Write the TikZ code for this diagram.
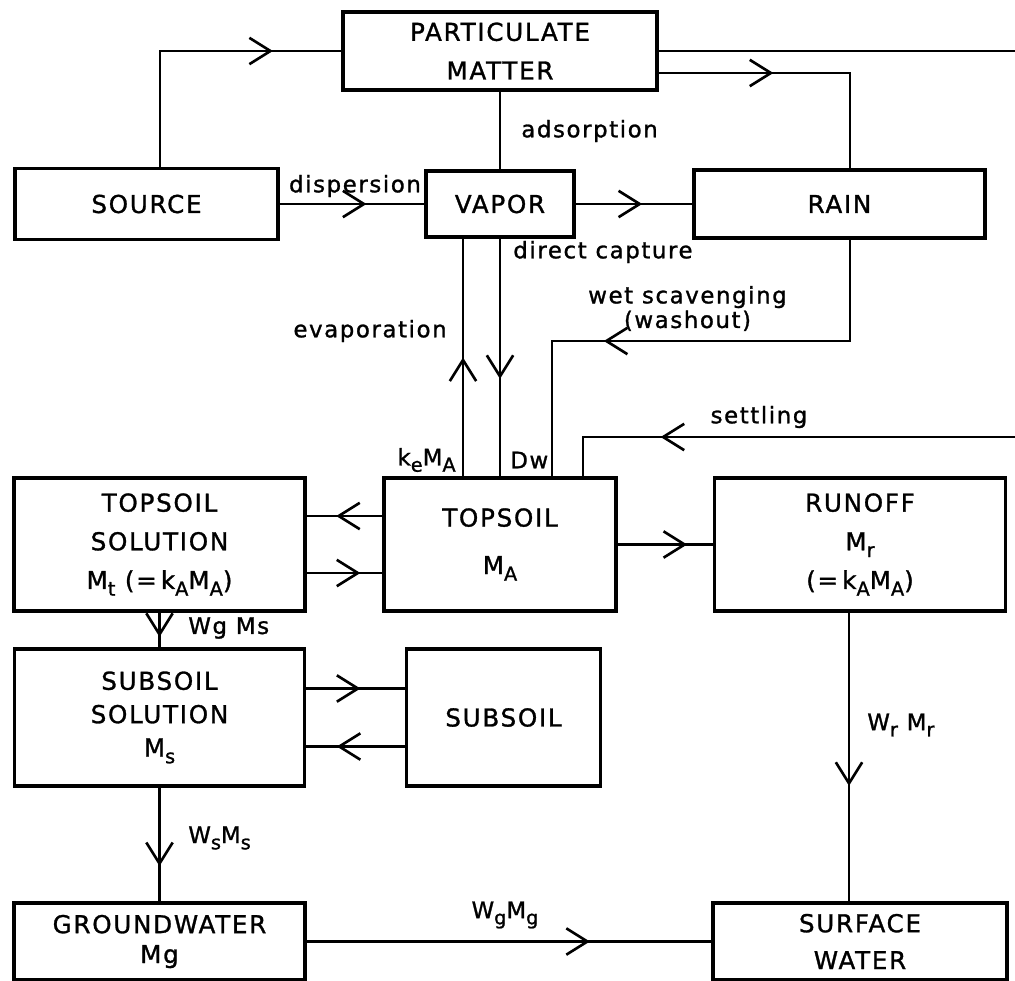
\documentclass[tikz,border=0pt]{standalone}
\usepackage{fontspec}
\setmainfont{DejaVu Sans}[LetterSpace=7, FakeBold=1.2]
\usetikzlibrary{positioning, arrows.meta, decorations.markings}

\newcommand\lo[1]{\raisebox{-0.5ex}{\fontsize{11}{11}\selectfont #1}}

\tikzset{
  box/.style={draw, line width=2pt, align=center, inner sep=0pt,
    font=\fontsize{14}{22}\selectfont},
  lbl/.style={font=\fontsize{13}{14}\selectfont, inner sep=0pt},
  flow/.style={line width=1.5pt},
  midarrow/.style={postaction={decorate}, decoration={markings,
    mark=at position #1 with {\arrow{Straight Barb[length=12pt, width=15pt]}}}}
}

\begin{document}
\begin{tikzpicture}[node distance=3cm, on grid]
  \useasboundingbox (0,0) rectangle (20.3,-19.6);

  % boxes
  \node[box, minimum width=6.28cm, minimum height=1.56cm] (pm) at (10,-1.02) {PARTICULATE\\MATTER};
  \node[box, minimum width=2.96cm, minimum height=1.32cm] (vapor) [below=3.06cm of pm] {VAPOR};
  \node[box, minimum width=5.26cm, minimum height=1.42cm] (source) [left=7.07cm of vapor] {SOURCE};
  \node[box, minimum width=5.82cm, minimum height=1.36cm] (rain) [right=6.79cm of vapor] {RAIN};
  \node[box, minimum width=4.64cm, minimum height=2.66cm, font=\fontsize{14}{27}\selectfont] (topsoil) [below=6.81cm of vapor] {TOPSOIL\\M\lo{A}};
  \node[box, minimum width=5.82cm, minimum height=2.66cm] (tsol) [left=6.81cm of topsoil] {TOPSOIL\\SOLUTION\\M\lo{t} (=\,k\lo{A}M\lo{A})};
  \node[box, minimum width=5.82cm, minimum height=2.66cm] (runoff) [right=7.2cm of topsoil] {RUNOFF\\M\lo{r}\\(=\,k\lo{A}M\lo{A})};
  \node[box, minimum width=5.80cm, minimum height=2.74cm, font=\fontsize{14}{19}\selectfont] (ssol) [below=3.46cm of tsol] {SUBSOIL\\SOLUTION\\M\lo{s}};
  \node[box, minimum width=3.88cm, minimum height=2.74cm] (subsoil) [right=6.88cm of ssol] {SUBSOIL};
  \node[box, minimum width=5.82cm, minimum height=1.54cm, font=\fontsize{14}{17}\selectfont] (gw) [below=4.48cm of ssol] {GROUNDWATER\\Mg};
  \node[box, minimum width=5.88cm, minimum height=1.54cm, font=\fontsize{14}{21}\selectfont] (sw) [right=14.01cm of gw] {SURFACE\\WATER};

  % bends
  \coordinate (edge) at (20.6,-1.04);
  \coordinate (settle) at (11.66,-8.74);
  \coordinate (wash) at (11.04,-6.82);

  % air
  \draw[flow, midarrow=0.77] ([xshift=0.27cm]source.north) |- (pm.west);
  \draw[flow, midarrow=0.40] ([yshift=-0.44cm]pm.east) -| ([xshift=0.21cm]rain.north);
  \draw[flow] (pm.south) -- (vapor.north);
  \draw[flow, midarrow=0.60] (source.east) -- (vapor.west);
  \draw[flow, midarrow=0.57] (vapor.east) -- (rain.west);

  % down to the soil
  \draw[flow, midarrow=0.50] ([xshift=-0.74cm]topsoil.north) -- ([xshift=-0.74cm]vapor.south);
  \draw[flow, midarrow=0.59] (vapor.south) -- (topsoil.north);
  \draw[flow, midarrow=0.65] ([xshift=0.21cm]rain.south) |- (wash) -- (wash |- topsoil.north);
  \draw[flow, midarrow=0.906] (pm.east) -- (pm.east -| edge) |- (settle) -- (settle |- topsoil.north);

  % soil and water
  \draw[flow, midarrow=0.61] ([yshift=0.57cm]topsoil.west) -- ([yshift=0.57cm]tsol.east);
  \draw[flow, midarrow=0.71] ([yshift=-0.57cm]tsol.east) -- ([yshift=-0.57cm]topsoil.west);
  \draw[flow, midarrow=0.73] (topsoil.east) -- (runoff.west);
  \draw[flow, midarrow=0.70] (tsol.south) -- (ssol.north);
  \draw[flow, midarrow=0.55] ([yshift=0.58cm]ssol.east) -- ([yshift=0.58cm]subsoil.west);
  \draw[flow, midarrow=0.69] ([yshift=-0.58cm]subsoil.west) -- ([yshift=-0.58cm]ssol.east);
  \draw[flow, midarrow=0.69] (ssol.south) -- (gw.north);
  \draw[flow, midarrow=0.70] (gw.east) -- (sw.west);
  \draw[flow, midarrow=0.60] ([xshift=-0.22cm]runoff.south) -- ([xshift=-0.22cm]runoff.south |- sw.north);

  % labels
  \node[lbl] (ldisp) at (7.1,-3.72) {dispersion};
  \node[lbl, anchor=west] (lads) at (10.42,-2.62) {adsorption};
  \node[lbl, anchor=west] (ldirect) at (10.26,-5.04) {direct capture};
  \node[lbl, align=center] (lwet) at (13.75,-6.17) {wet scavenging\\(washout)};
  \node[lbl, anchor=east] (levap) at (8.94,-6.62) {evaporation};
  \node[lbl] (lsettle) at (15.18,-8.34) {settling};
  \node[lbl, anchor=east] (lke) at (9.12,-9.2) {k\lo{e}M\lo{A}};
  \node[lbl, anchor=west] (ldw) at (10.2,-9.2) {Dw};
  \node[lbl, anchor=west] (lwgms) at (3.76,-12.56) {Wg Ms};
  \node[lbl, anchor=west] (lwsms) at (3.76,-16.76) {W\lo{s}M\lo{s}};
  \node[lbl] (lwgmg) at (10.1,-18.3) {W\lo{g}M\lo{g}};
  \node[lbl, anchor=west] (lwrmr) at (17.34,-14.5) {W\lo{r} M\lo{r}};
\end{tikzpicture}
\end{document}
